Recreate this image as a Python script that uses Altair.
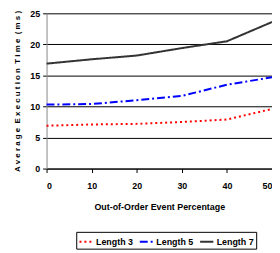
import altair as alt
import pandas as pd

pct = [0, 10, 20, 30, 40, 50]
len3 = [6.9, 7.1, 7.2, 7.5, 7.9, 9.6]
len5 = [10.3, 10.4, 11.0, 11.7, 13.5, 14.7]
len7 = [16.9, 17.6, 18.2, 19.4, 20.5, 23.6]
series = ["Length 3", "Length 5", "Length 7"]

rows = []
for name, vals in zip(series, [len3, len5, len7]):
    for p, v in zip(pct, vals):
        rows.append({"pct": p, "time": v, "series": name})
df = pd.DataFrame(rows)

font = "Liberation Sans"
ytitle = "A v e r a g e \u00a0E x e c u t i o n \u00a0T i m e \u00a0( m s )"

chart = alt.Chart(df).mark_line(strokeWidth=2).encode(
    x=alt.X("pct:Q", scale=alt.Scale(domain=[0, 50], nice=False),
            axis=alt.Axis(values=pct, title="Out-of-Order Event Percentage",
                          grid=False, tickSize=4, labelPadding=9,
                          titlePadding=12, domainColor="black", tickColor="black")),
    y=alt.Y("time:Q", scale=alt.Scale(domain=[0, 25], nice=False),
            axis=alt.Axis(values=[0, 5, 10, 15, 20, 25],
                          title=ytitle, titleFontSize=8,
                          tickSize=4, labelPadding=3, titlePadding=8,
                          domainColor="#888888", tickColor="black",
                          gridColor="black", gridWidth=1)),
    color=alt.Color("series:N", scale=alt.Scale(domain=series, range=["#ff0000", "#0000ff", "#333333"]),
                    legend=alt.Legend(title=None, orient="none", direction="horizontal",
                                      legendX=30, legendY=221,
                                      symbolType="stroke", symbolSize=180, symbolStrokeWidth=2,
                                      strokeColor="black", padding=2,
                                      labelFont=font, labelFontSize=9, labelFontWeight="bold",
                                      labelColor="black", labelOffset=2,
                                      columnPadding=2, symbolOffset=0)),
    strokeDash=alt.StrokeDash("series:N", scale=alt.Scale(domain=series, range=[[2, 3], [8, 3, 2, 3], [1, 0]]),
                              legend=None),
).properties(
    width=228, height=157,
    autosize="none",
    padding={"left": 39, "top": 4, "right": 0, "bottom": 84},
).configure_axis(
    labelFont=font, labelFontSize=9, labelFontWeight="bold", labelColor="black",
    titleFont=font, titleFontSize=9, titleFontWeight="bold", titleColor="black",
).configure_view(stroke=None)

chart.save("out.html", embed_options={"renderer": "svg", "actions": False})
